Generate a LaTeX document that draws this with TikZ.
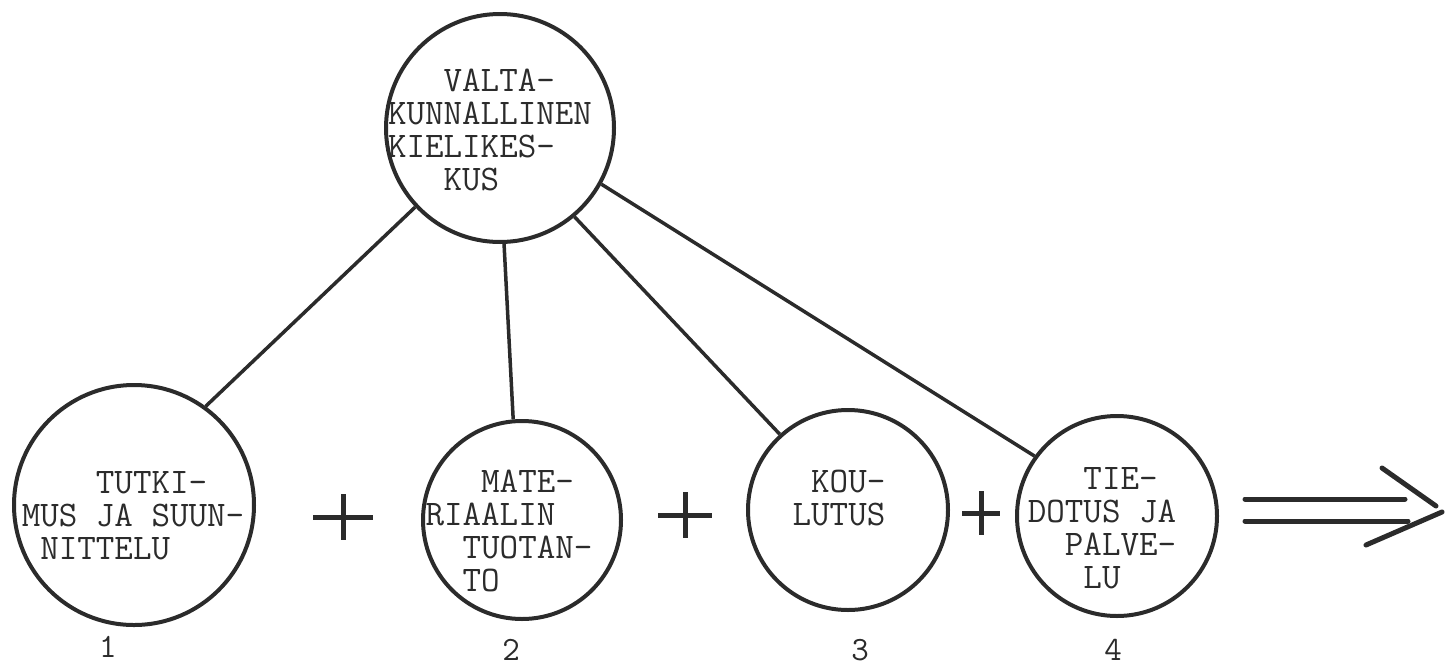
\documentclass[tikz,border=0pt]{standalone}
\usepackage{fontspec}
\definecolor{ink}{HTML}{2B2B2B}
\newcommand{\pad}[1]{\hphantom{#1}}
\tikzset{
  bubble/.style={circle, draw=ink, line width=4pt, inner sep=0pt, minimum size=#1},
  lbl/.style={font=\ttfamily\addfontfeature{FakeBold=1.2}\fontsize{36}{33}\selectfont, text=ink, align=left, inner sep=0pt},
  num/.style={font=\ttfamily\addfontfeature{FakeBold=1.2}\fontsize{34}{34}\selectfont, text=ink, inner sep=0pt},
  link/.style={draw=ink, line width=3.5pt},
  plusline/.style={draw=ink, line width=5pt},
  arrowline/.style={draw=ink, line width=5pt, line cap=round},
}
\begin{document}
\begin{tikzpicture}[x=1pt,y=-1pt]
\useasboundingbox (0,0) rectangle (1454,670);
% circles
\node[bubble=228pt] (top) at (500,128) {};
\node[bubble=240pt] (c1) at (134,505) {};
\node[bubble=198pt] (c2) at (522,520) {};
\node[bubble=200pt] (c3) at (848,510) {};
\node[bubble=200pt] (c4) at (1117,516) {};
% labels
\node[lbl] (ttop) at (490,130) {\pad{MMM}VALTA-\\KUNNALLINEN\\KIELIKES-\\\pad{MMM}KUS};
\node[lbl] (t1) at (133,516) {\pad{MMMM}TUTKI-\\MUS JA SUUN-\\\pad{M}NITTELU};
\node[lbl] (t2) at (509,531) {\pad{MMM}MATE-\\RIAALIN\\\pad{MM}TUOTAN-\\\pad{MM}TO};
\node[lbl] (t3) at (839,498) {\pad{M}KOU-\\LUTUS};
\node[lbl] (t4) at (1102,528) {\pad{MMM}TIE-\\DOTUS JA\\\pad{MM}PALVE-\\\pad{MMM}LU};
% numbers
\node[num] (n1) at (108,647) {1};
\node[num] (n2) at (511,650) {2};
\node[num] (n3) at (860,650) {3};
\node[num] (n4) at (1113,650) {4};
% connectors
\draw[link] (top.223) -- (c1.54);
\draw[link] (top.272) -- (c2.95);
\draw[link] (top.310) -- (c3.132);
\draw[link] (top.331) -- (c4.144);
% plus signs
\draw[plusline] (313,517) -- (373,517) (343,494) -- (343,540);
\draw[plusline] (658,515) -- (712,515) (685,492) -- (685,538);
\draw[plusline] (962,513) -- (1000,513) (981,491) -- (981,535);
% double arrow
\draw[arrowline] (1245,499) -- (1405,499);
\draw[arrowline] (1245,521) -- (1408,521);
\draw[arrowline] (1382,468) -- (1436,506);
\draw[arrowline] (1442,512) -- (1366,545);
\end{tikzpicture}
\end{document}
